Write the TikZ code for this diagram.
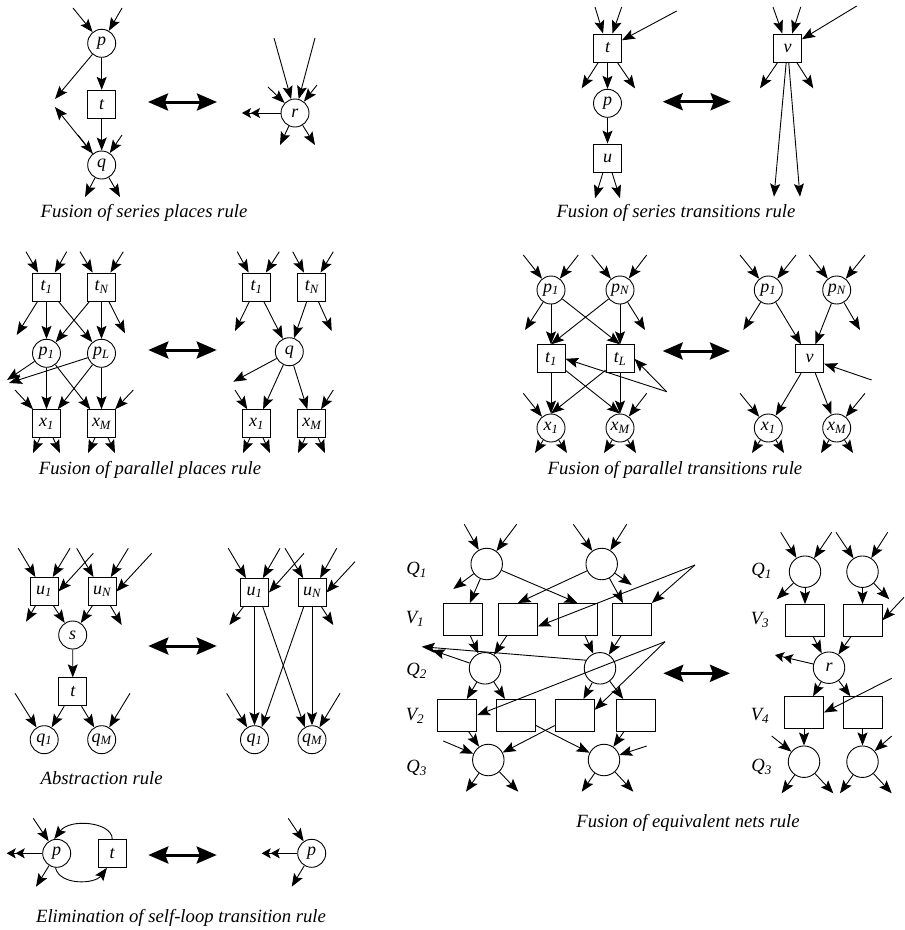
\documentclass[tikz,border=0pt]{standalone}
\usepackage{fontspec}
\setmainfont{Liberation Serif}
\usetikzlibrary{arrows.meta}
\newcommand\netlbl{\itshape\fontsize{18}{20}\selectfont}
\tikzset{
  place/.style={circle, draw, line width=0.9pt, minimum size=28pt, inner sep=0pt, font=\netlbl},
  trans/.style={rectangle, draw, line width=0.9pt, minimum size=28pt, inner sep=0pt, font=\netlbl},
  bigplace/.style={place, minimum size=31.5pt},
  bigtrans/.style={trans, minimum width=39pt, minimum height=31.5pt},
  flow/.style={-{Stealth[length=13pt,width=10pt,inset=2.5pt]}, line width=0.9pt},
  flow2/.style={-{Stealth[length=9pt,width=10pt,inset=2pt] Stealth[length=9pt,width=10pt,inset=2pt]}, line width=0.9pt},
  rulearrow/.style={{Stealth[length=20pt,width=17pt,inset=3pt]}-{Stealth[length=20pt,width=17pt,inset=3pt]}, line width=3pt},
  caption/.style={font=\itshape\fontsize{18.7}{22}\selectfont},
  rowlbl/.style={font=\itshape\fontsize{18.7}{22}\selectfont}
}
\begin{document}
\begin{tikzpicture}[x=1pt,y=-1pt]
\useasboundingbox (0,0) rectangle (905,930);

% fusion of series places
\node[place] (Ap) at (101.7,43.3) {p};
\node[trans] (At) at (101.7,104.3) {t};
\node[place] (Aq) at (101.7,165) {q};
\node[place] (Ar) at (295,113) {r};
\foreach \n/\x/\y/\t in {Ai1/73/8/Ap, Ai2/122/8/Ap, Ai3/78/135/Aq, Ai4/122/135/Aq,
    Ai5/274/38/Ar, Ai6/315/38/Ar, Ai7/268/87/Ar, Ai8/317/85/Ar}
  {\coordinate (\n) at (\x,\y); \draw[flow] (\n) -- (\t);}
\foreach \s/\n/\x/\y in {Ap/Ao1/55/99, Aq/Ao2/55/107, Aq/Ao3/85/197, Aq/Ao4/120/197,
    Ar/Ao5/280/145, Ar/Ao6/315/145}
  {\coordinate (\n) at (\x,\y); \draw[flow] (\s) -- (\n);}
\coordinate (Ao7) at (242,113);
\draw[flow2] (Ar) -- (Ao7);
\foreach \a/\b in {Ap/At, At/Aq} \draw[flow] (\a) -- (\b);
\coordinate (Al) at (148,102);
\coordinate (Ae) at (217,102);
\draw[rulearrow] (Al) -- (Ae);
\node[caption] (Acap) at (144,213) {Fusion of series places rule};

% fusion of series transitions
\node[trans] (Bt) at (607.5,48) {t};
\node[place] (Bp) at (607.5,103.3) {p};
\node[trans] (Bu) at (607.5,158) {u};
\node[trans] (Bv) at (787.5,48) {v};
\foreach \n/\x/\y/\t in {Bi1/595/7/Bt, Bi2/621.7/7/Bt, Bi3/676.7/11/Bt,
    Bi4/773/7/Bv, Bi5/800.7/7/Bv, Bi6/856.7/6/Bv}
  {\coordinate (\n) at (\x,\y); \draw[flow] (\n) -- (\t);}
\foreach \s/\n/\x/\y in {Bt/Bo1/581.7/88.3, Bt/Bo2/635/88.3, Bu/Bo3/595/198.3, Bu/Bo4/620/198.3,
    Bv/Bo5/760/88.3, Bv/Bo6/813.3/88.3, Bv/Bo7/774/196.7, Bv/Bo8/800/196.7}
  {\coordinate (\n) at (\x,\y); \draw[flow] (\s) -- (\n);}
\foreach \a/\b in {Bt/Bp, Bp/Bu} \draw[flow] (\a) -- (\b);
\coordinate (Bl) at (662.7,101.7);
\coordinate (Be) at (730.7,101.7);
\draw[rulearrow] (Bl) -- (Be);
\node[caption] (Bcap) at (676,213) {Fusion of series transitions rule};

% fusion of parallel places
\node[trans] (Ct1) at (46.5,287) {t\textsubscript{1}};
\node[trans] (CtN) at (101.5,287) {t\textsubscript{N}};
\node[place] (Cp1) at (46.5,353.3) {p\textsubscript{1}};
\node[place] (CpL) at (101.5,353.3) {p\textsubscript{L}};
\node[trans] (Cx1) at (46.5,423.7) {x\textsubscript{1}};
\node[trans] (CxM) at (101.5,423.7) {x\textsubscript{M}};
\node[trans] (Ck1) at (256.5,287) {t\textsubscript{1}};
\node[trans] (CkN) at (311.8,287) {t\textsubscript{N}};
\node[place] (Cq) at (289.3,351.7) {q};
\node[trans] (Cy1) at (256.5,423.7) {x\textsubscript{1}};
\node[trans] (CyM) at (311.8,423.7) {x\textsubscript{M}};
\foreach \n/\x/\y/\t in {Ci1/26/251.7/Ct1, Ci2/66.7/251.7/Ct1, Ci3/80/251.7/CtN, Ci4/123.3/251.7/CtN,
    Ci5/15/390/Cx1, Ci6/133.3/390/CxM, Ci7/237.3/251.7/Ck1, Ci8/279.3/251.7/Ck1,
    Ci9/292.7/251.7/CkN, Ci10/333.3/251.7/CkN, Ci11/235/390/Cy1, Ci12/333.3/390/CyM}
  {\coordinate (\n) at (\x,\y); \draw[flow] (\n) -- (\t);}
\foreach \s/\n/\x/\y in {Ct1/Co1/16.7/335, CtN/Co2/125/333.3, Cp1/Co3/7/380, CpL/Co4/9/383,
    Cx1/Co5/33/453, Cx1/Co6/60/453, CxM/Co7/88/453, CxM/Co8/115/453,
    Ck1/Co9/235/331, CkN/Co10/331.7/331, Cq/Co11/233.3/381.7,
    Cy1/Co12/243/453, Cy1/Co13/270/453, CyM/Co14/298/453, CyM/Co15/325/453}
  {\coordinate (\n) at (\x,\y); \draw[flow] (\s) -- (\n);}
\foreach \a/\b in {Ct1/Cp1, Ct1/CpL, CtN/Cp1, CtN/CpL, Cp1/Cx1, Cp1/CxM, CpL/Cx1, CpL/CxM,
    Ck1/Cq, CkN/Cq, Cq/Cy1, Cq/CyM}
  \draw[flow] (\a) -- (\b);
\coordinate (Cl) at (148.3,350);
\coordinate (Ce) at (216.7,350);
\draw[rulearrow] (Cl) -- (Ce);
\node[caption] (Ccap) at (150,470) {Fusion of parallel places rule};

% fusion of parallel transitions
\node[place] (Dp1) at (551,290) {p\textsubscript{1}};
\node[place] (DpN) at (620,290) {p\textsubscript{N}};
\node[trans] (Dt1) at (551,358.8) {t\textsubscript{1}};
\node[trans] (DtL) at (620,358.8) {t\textsubscript{L}};
\node[place] (Dx1) at (551,428) {x\textsubscript{1}};
\node[place] (DxM) at (620,428) {x\textsubscript{M}};
\node[place] (Dq1) at (768.3,290) {p\textsubscript{1}};
\node[place] (DqN) at (836.7,290) {p\textsubscript{N}};
\node[trans] (Dv) at (809.7,358.8) {v};
\node[place] (Dy1) at (768.3,428) {x\textsubscript{1}};
\node[place] (DyM) at (836.7,428) {x\textsubscript{M}};
\foreach \n/\x/\y/\t in {Di1/523.3/255/Dp1, Di2/578.3/255/Dp1, Di3/591.7/255/DpN, Di4/646.7/255/DpN,
    Di5/523.3/393.3/Dx1, Di6/646.7/393.3/DxM, Di7/740/255/Dq1, Di8/796/255/Dq1,
    Di9/809.3/255/DqN, Di10/865/255/DqN, Di11/740/393.3/Dy1, Di12/865/393.3/DyM, Di13/871.7/380/Dv}
  {\coordinate (\n) at (\x,\y); \draw[flow] (\n) -- (\t);}
\coordinate (De) at (666.7,391.7);
\draw[flow] (De) -- (Dt1.east);
\draw[flow] (De) -- (DtL.east);
\foreach \s/\n/\x/\y in {Dp1/Do1/525/330, DpN/Do2/645/330, Dx1/Do3/535/453, Dx1/Do4/567/453,
    DxM/Do5/604/453, DxM/Do6/636/453, Dq1/Do7/743.3/330, DqN/Do8/860/330,
    Dy1/Do9/752/453, Dy1/Do10/784/453, DyM/Do11/821/453, DyM/Do12/853/453}
  {\coordinate (\n) at (\x,\y); \draw[flow] (\s) -- (\n);}
\foreach \a/\b in {Dp1/Dt1, Dp1/DtL.north, DpN/Dt1.north, DpN/DtL, Dt1/Dx1, Dt1/DxM.north,
    DtL/Dx1.north, DtL/DxM, Dq1/Dv, DqN/Dv, Dv/Dy1, Dv/DyM}
  \draw[flow] (\a) -- (\b);
\coordinate (Dl) at (662.7,351);
\coordinate (Dr) at (730,351);
\draw[rulearrow] (Dl) -- (Dr);
\node[caption] (Dcap) at (675,470) {Fusion of parallel transitions rule};

% abstraction
\node[trans] (Eu1) at (44,591.5) {u\textsubscript{1}};
\node[trans] (EuN) at (102,591.5) {u\textsubscript{N}};
\node[place] (Es) at (72.7,635) {s};
\node[trans] (Et) at (72.8,691.8) {t};
\node[place] (Eq1) at (44.2,739.7) {q\textsubscript{1}};
\node[place] (EqM) at (101.7,739.7) {q\textsubscript{M}};
\node[trans] (Ew1) at (254.5,592.5) {u\textsubscript{1}};
\node[trans] (EwN) at (312,592.5) {u\textsubscript{N}};
\node[place] (Er1) at (254.5,739.7) {q\textsubscript{1}};
\node[place] (ErM) at (312,739.7) {q\textsubscript{M}};
\foreach \n/\x/\y/\t in {Ei1/18.3/548.3/Eu1, Ei2/70/548.3/Eu1, Ei3/93.3/553.3/Eu1.east,
    Ei4/76.7/548.3/EuN, Ei5/128.3/548.3/EuN, Ei6/151.7/553.3/EuN.east,
    Ei7/15/693.3/Eq1, Ei8/130/693.3/EqM,
    Ei9/228.3/548.3/Ew1, Ei10/280/548.3/Ew1, Ei11/304/553.3/Ew1.east,
    Ei12/285/548.3/EwN, Ei13/336.7/548.3/EwN, Ei14/355/561.7/EwN.east,
    Ei15/226.7/693.3/Er1, Ei16/340/693.3/ErM}
  {\coordinate (\n) at (\x,\y); \draw[flow] (\n) -- (\t);}
\foreach \s/\n/\x/\y in {Eu1/Eo1/26/621.7, EuN/Eo2/121.7/625, Ew1/Eo3/229.3/625, EwN/Eo4/333.3/625}
  {\coordinate (\n) at (\x,\y); \draw[flow] (\s) -- (\n);}
\foreach \a/\b in {Eu1/Es, EuN/Es, Es/Et, Et/Eq1, Et/EqM}
  \draw[flow] (\a) -- (\b);
\foreach \a/\b in {Ew1.south/Er1.north, Ew1.300/ErM.120, EwN.240/Er1.60, EwN.south/ErM.north}
  \draw[flow] (\a) -- (\b);
\coordinate (El) at (148.3,646);
\coordinate (Ee) at (216.7,646);
\draw[rulearrow] (El) -- (Ee);
\node[caption] (Ecap) at (101.7,778.3) {Abstraction rule};

% elimination of self-loop transition
\node[place] (Fp) at (56.7,853.3) {p};
\node[trans] (Ft) at (112.2,853.3) {t};
\node[place] (Fq) at (311.7,853.3) {p};
\foreach \n/\x/\y/\t in {Fi1/33.3/818.3/Fp, Fi2/288.3/818.3/Fq}
  {\coordinate (\n) at (\x,\y); \draw[flow] (\n) -- (\t);}
\foreach \s/\n/\x/\y in {Fp/Fo1/36/886.7, Fq/Fo2/291.7/886.7}
  {\coordinate (\n) at (\x,\y); \draw[flow] (\s) -- (\n);}
\coordinate (Fo3) at (6.7,853.3);
\coordinate (Fo4) at (261.7,853.3);
\draw[flow2] (Fp) -- (Fo3);
\draw[flow2] (Fq) -- (Fo4);
\draw[flow] (Ft.north) .. controls (112,822) and (70,818) .. (Fp.100);
\draw[flow] (Fp.265) .. controls (60,886) and (95,884) .. (Ft.250);
\coordinate (Fl) at (148.3,855);
\coordinate (Fe) at (216.7,855);
\draw[rulearrow] (Fl) -- (Fe);
\node[caption] (Fcap) at (181,918.3) {Elimination of self-loop transition rule};

% fusion of equivalent nets
\node[rowlbl] (GQa) at (416.7,570) {Q\textsubscript{1}};
\node[rowlbl] (GVa) at (415,619) {V\textsubscript{1}};
\node[rowlbl] (GQb) at (416.7,671) {Q\textsubscript{2}};
\node[rowlbl] (GVb) at (415,716) {V\textsubscript{2}};
\node[rowlbl] (GQc) at (416.7,768) {Q\textsubscript{3}};
\node[rowlbl] (GQd) at (761.7,571) {Q\textsubscript{1}};
\node[rowlbl] (GVc) at (760,620) {V\textsubscript{3}};
\node[rowlbl] (GVd) at (760,716) {V\textsubscript{4}};
\node[rowlbl] (GQe) at (761.7,767) {Q\textsubscript{3}};
\node[bigplace] (GA) at (486.7,564) {};
\node[bigplace] (GB) at (601.7,564) {};
\node[bigtrans] (GV1a) at (462.8,619.2) {};
\node[bigtrans] (GV1b) at (517.8,619.2) {};
\node[bigtrans] (GV1c) at (577.5,619.2) {};
\node[bigtrans] (GV1d) at (631.8,619.2) {};
\node[bigplace] (GC) at (485,668.3) {};
\node[bigplace] (GD) at (600,668.3) {};
\node[bigtrans] (GV2a) at (457.2,715.2) {};
\node[bigtrans] (GV2b) at (515.5,715.2) {};
\node[bigtrans] (GV2c) at (574.7,715.2) {};
\node[bigtrans] (GV2d) at (635.5,715.2) {};
\node[bigplace] (GF) at (488.3,760) {};
\node[bigplace] (GG) at (604,760) {};
\node[bigplace] (GH) at (805,571.7) {};
\node[bigplace] (GI) at (862.5,571.7) {};
\node[bigtrans] (GV3a) at (805,620.3) {};
\node[bigtrans] (GV3b) at (862.5,620.3) {};
\node[bigplace] (Gr) at (829,667.7) {r};
\node[bigtrans] (GV4a) at (804,712.5) {};
\node[bigtrans] (GV4b) at (862.5,712.5) {};
\node[bigplace] (GJ) at (804,761.7) {};
\node[bigplace] (GK) at (862.5,761.7) {};
\foreach \n/\x/\y/\t in {Gi1/464.3/524.3/GA, Gi2/516.7/524.3/GA, Gi3/573.3/524.3/GB, Gi4/626.7/524.3/GB,
    Gi5/443.3/741/GF, Gi6/646.7/746/GG, Gi7/780.7/532.3/GH, Gi8/831.7/532.3/GH,
    Gi9/836/532.3/GI, Gi10/887.7/532.3/GI, Gi11/771.7/736/GJ, Gi12/891.7/736/GK,
    Gi13/904/597.3/GV3b.east, Gi14/891.7/678.3/GV4a.east}
  {\coordinate (\n) at (\x,\y); \draw[flow] (\n) -- (\t);}
\coordinate (GE1) at (695,565);
\coordinate (GE2) at (665,641.7);
\draw[flow] (GE1) -- (GV1b.-20);
\draw[flow] (GE1) -- (GV1d.north east);
\draw[flow] (GE2) -- (GV2a.east);
\draw[flow] (GE2) -- (GV2c.15);
\foreach \s/\n/\x/\y in {GA/Go1/453.3/589, GB/Go2/631.7/585, GC/Go3/431.7/650,
    GF/Go4/466/791.7, GF/Go5/518.3/791.7, GG/Go6/581.7/791.7, GG/Go7/633.3/791.7,
    GH/Go8/776.7/599.3, GI/Go9/889.3/599.3, GJ/Go10/781.7/793.3, GJ/Go11/833.3/793.3,
    GK/Go12/840/793.3, GK/Go13/891.7/793.3}
  {\coordinate (\n) at (\x,\y); \draw[flow] (\s) -- (\n);}
\coordinate (Go14) at (421.7,646.7);
\draw[flow] (GD.150) -- (Go14);
\coordinate (Go15) at (775,655);
\draw[flow2] (Gr) -- (Go15);
\foreach \a/\b in {GA/GV1a, GA/GV1c.north, GB/GV1b.north, GB/GV1d, GV1a/GC, GV1b/GC, GV1c/GD, GV1d/GD,
    GC/GV2a, GC/GV2b, GD/GV2c, GD/GV2d, GV2a/GF, GV2b/GG, GV2c/GF, GV2d/GG,
    GH/GV3a, GI/GV3b, GV3a/Gr, GV3b/Gr, Gr/GV4a, Gr/GV4b, GV4a/GJ, GV4b/GK}
  \draw[flow] (\a) -- (\b);
\coordinate (Gl) at (663.3,673.3);
\coordinate (Ge) at (730,673.3);
\draw[rulearrow] (Gl) -- (Ge);
\node[caption] (Gcap) at (688,823.3) {Fusion of equivalent nets rule};
\end{tikzpicture}
\end{document}
